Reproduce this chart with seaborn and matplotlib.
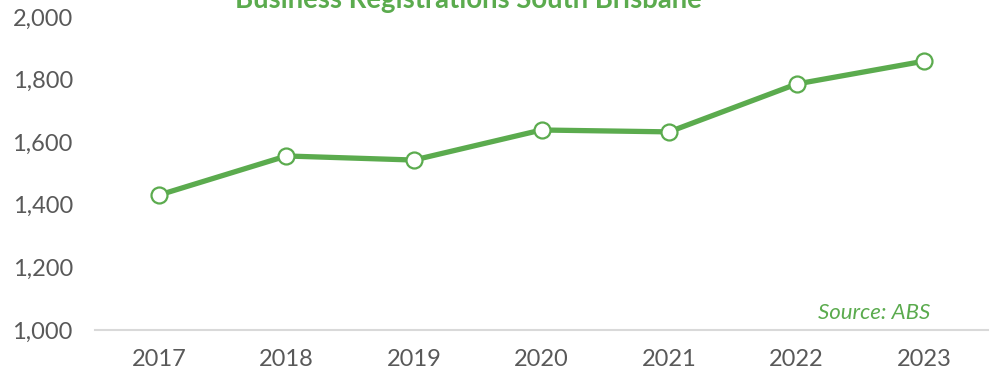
import matplotlib
matplotlib.use('Agg')
import matplotlib.pyplot as plt
import matplotlib.ticker as mticker
import pandas as pd
import seaborn as sns

sns.set_theme(style='white')
plt.rcParams['font.family'] = ['Lato', 'DejaVu Sans']

years = ['2017', '2018', '2019', '2020', '2021', '2022', '2023']
registrations = [1431, 1556, 1543, 1639, 1633, 1786, 1859]

green = '#5bab4e'
grey_text = '#595959'

df = pd.DataFrame({'Year': years, 'Registrations': registrations})

fig = plt.figure(figsize=(9.9, 3.76), dpi=100)
ax = fig.add_axes([95 / 990, 1 - 330 / 376, (988 - 95) / 990, (330 - 17) / 376])

sns.lineplot(data=df, x='Year', y='Registrations', ax=ax, color=green,
             linewidth=3.8, marker='o', markersize=11.5,
             markerfacecolor='white', markeredgecolor=green,
             markeredgewidth=1.6, sort=False)

ax.set_xlim(-0.5, len(years) - 0.5)
ax.set_ylim(1000, 2000)
ax.yaxis.set_major_locator(mticker.MultipleLocator(200))
ax.yaxis.set_major_formatter(mticker.FuncFormatter(lambda v, p: f'{v:,.0f}'))
ax.set_xlabel('')
ax.set_ylabel('')
ax.tick_params(axis='both', length=0, labelsize=17, labelcolor=grey_text)
ax.tick_params(axis='y', pad=16)
ax.tick_params(axis='x', pad=14)

for side in ['top', 'right', 'left']:
    ax.spines[side].set_visible(False)
ax.spines['bottom'].set_color('#d9d9d9')
ax.spines['bottom'].set_linewidth(1.5)
ax.grid(False)

# title sits partly above the canvas, as in the original
fig.text(468 / 990, 1 - 8 / 376, 'Business Registrations South Brisbane',
         ha='center', va='baseline', fontsize=19.8, fontweight='bold', color=green)
ax.text(0.873, 0.054, 'Source: ABS', transform=ax.transAxes, ha='center',
        va='center', fontsize=16, fontstyle='italic', color=green)

fig.savefig('out.png', dpi=100)
